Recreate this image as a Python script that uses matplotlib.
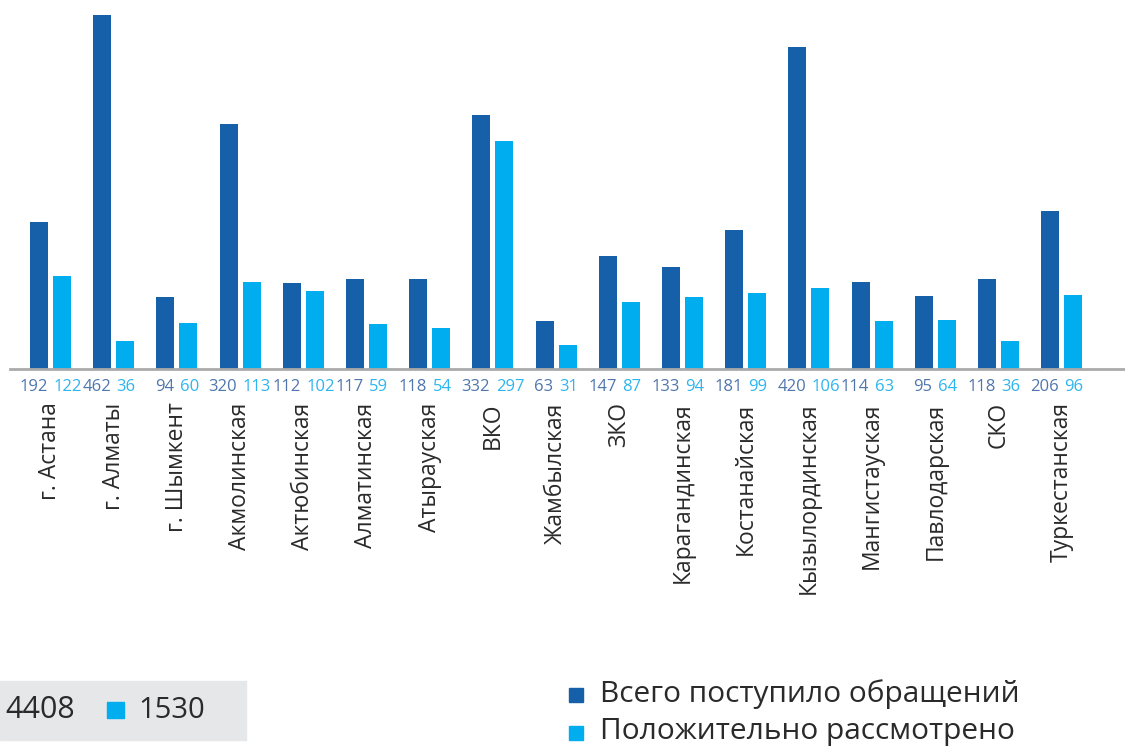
import numpy as np
import matplotlib
matplotlib.use("Agg")
from matplotlib import pyplot as plt
from matplotlib.patches import Rectangle

plt.rcParams['font.family'] = ['Open Sans', 'DejaVu Sans']

regions = ['г. Астана', 'г. Алматы', 'г. Шымкент', 'Акмолинская', 'Актюбинская',
           'Алматинская', 'Атырауская', 'ВКО', 'Жамбылская', 'ЗКО',
           'Карагандинская', 'Костанайская', 'Кызылординская', 'Мангистауская',
           'Павлодарская', 'СКО', 'Туркестанская']
total = [192, 462, 94, 320, 112, 117, 118, 332, 63, 147, 133, 181, 420, 114, 95, 118, 206]
approved = [122, 36, 60, 113, 102, 59, 54, 297, 31, 87, 94, 99, 106, 63, 64, 36, 96]
total_sum = 4408
approved_sum = 1530

dark = '#1560a8'
light = '#00aeef'
dark_txt = '#4f76ad'
light_txt = '#2db5ef'
txt = '#2a2a2a'

fig = plt.figure()
fig.set_dpi(100)
fig.set_size_inches(11.25, 7.47)

ax = fig.add_axes([10 / 1125, (747 - 369) / 747, 1 - 10 / 1125, 354 / 747])
x = np.arange(len(regions))
w = 0.285
off = 0.182
ax.bar(x - off, total, w, color=dark)
ax.bar(x + off, approved, w, color=light)
ax.set_xlim(-0.64, 17.0)
ax.set_ylim(0, 462)
for s in ['top', 'right', 'left']:
    ax.spines[s].set_visible(False)
ax.spines['bottom'].set_color('#aaaaaa')
ax.spines['bottom'].set_linewidth(2)
ax.set_yticks([])
ax.set_xticks([])

for i in range(len(regions)):
    ax.annotate(str(total[i]), (x[i], 0), xytext=(-2, -7), textcoords='offset points',
                ha='right', va='top', fontsize=12, color=dark_txt)
    ax.annotate(str(approved[i]), (x[i], 0), xytext=(2, -7), textcoords='offset points',
                ha='left', va='top', fontsize=12, color=light_txt)
    ax.annotate(regions[i], (x[i], 0), xytext=(0, -24), textcoords='offset points',
                ha='center', va='top', rotation=90, fontsize=16.5, color=txt)

# legend
fig.patches.append(Rectangle((569 / 1125, 1 - 702 / 747), 14 / 1125, 14 / 747,
                             transform=fig.transFigure, color=dark))
fig.patches.append(Rectangle((569 / 1125, 1 - 740 / 747), 14 / 1125, 14 / 747,
                             transform=fig.transFigure, color=light))
fig.text(600 / 1125, 1 - 694 / 747, 'Всего поступило обращений', fontsize=21.5,
         va='center', color=txt)
fig.text(600 / 1125, 1 - 732 / 747, 'Положительно рассмотрено', fontsize=21.5,
         va='center', color=txt)

# totals box
fig.patches.append(Rectangle((0, 1 - 740 / 747), 246 / 1125, 59 / 747,
                             transform=fig.transFigure, color='#e6e7e9'))
fig.patches.append(Rectangle((107 / 1125, 1 - 718 / 747), 17 / 1125, 16 / 747,
                             transform=fig.transFigure, color=light))
fig.text(5 / 1125, 1 - 710 / 747, str(total_sum), fontsize=22, va='center',
         color=txt)
fig.text(138 / 1125, 1 - 710 / 747, str(approved_sum), fontsize=21, va='center',
         color=txt)

fig.savefig('out.png', dpi=100)
